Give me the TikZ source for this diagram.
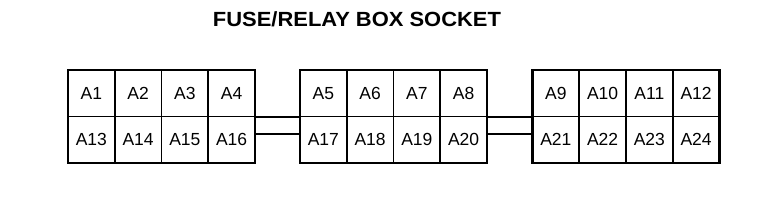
\documentclass[tikz,border=0pt]{standalone}
\usepackage{fontspec}
\setmainfont{Liberation Sans}
\begin{document}
\begin{tikzpicture}[x=1pt,y=1pt,
  cell/.style={draw,line width=1.6pt,minimum width=46.75pt,minimum height=46.5pt,inner sep=0pt,font=\fontsize{17.5}{17.5}\selectfont},
  outer/.style={draw,line width=2.8pt,minimum width=187pt,minimum height=93pt,inner sep=0pt},
  conn/.style={line width=2pt}]
\useasboundingbox (0,0) rectangle (768,202);
\node[font=\bfseries\fontsize{20.5}{20.5}\selectfont,xscale=1.07] (title) at (357,183) {FUSE/RELAY BOX SOCKET};
\foreach \b/\cx/\s in {1/161.5/0,2/393.5/4,3/626/8}{
  \foreach \i in {1,...,4}{
    \pgfmathtruncatemacro{\top}{\s+\i}
    \pgfmathtruncatemacro{\bot}{\s+\i+12}
    \node[cell] (c\top) at ({\cx-93.5+(\i-0.5)*46.75},{85.5+23.25}) {A\top};
    \node[cell] (c\bot) at ({\cx-93.5+(\i-0.5)*46.75},{85.5-23.25}) {A\bot};
  }
  \node[outer] (b\b) at (\cx,85.5) {};
}
\draw[conn] (b1.east) -- (b2.west);
\draw[conn] ([yshift=-17pt]b1.east) -- ([yshift=-17pt]b2.west);
\draw[conn] (b2.east) -- (b3.west);
\draw[conn] ([yshift=-17pt]b2.east) -- ([yshift=-17pt]b3.west);
\end{tikzpicture}
\end{document}
